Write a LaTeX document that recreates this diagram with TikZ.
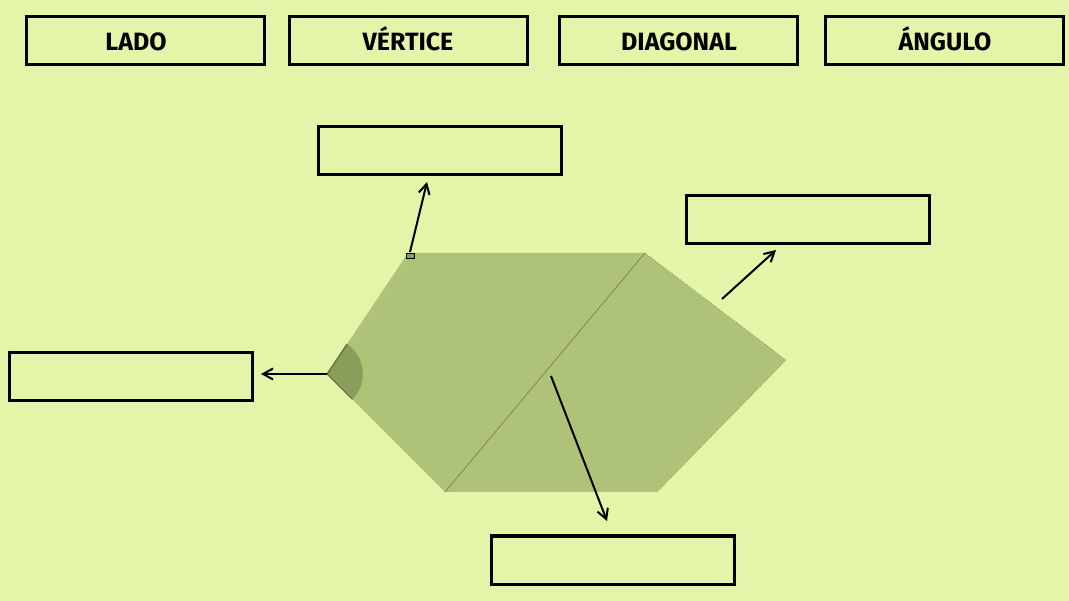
\documentclass[tikz,border=0pt]{standalone}
\usepackage{fontspec}
\setmainfont{Fira Sans}
\usetikzlibrary{arrows.meta,calc}
\definecolor{bg}{RGB}{228,245,170}
\definecolor{hexfill}{RGB}{174,195,120}
\definecolor{angfill}{RGB}{138,158,92}
\begin{document}
\begin{tikzpicture}[x=1pt,y=-1pt,
  lbl/.style={draw=black,line width=3pt,fill=bg,minimum width=238pt,minimum height=48pt,inner sep=0pt},
  lbltext/.style={inner sep=0pt,anchor=base,font=\fontsize{25}{28}\selectfont\bfseries},
  blank/.style={draw=black,line width=3pt,fill=bg,minimum width=243pt,minimum height=48pt,inner sep=0pt},
  arr/.style={draw=black,line width=2pt,-{Straight Barb[length=10pt,width=11pt]}}]
\fill[bg] (0,0) rectangle (1069,601);
\useasboundingbox (0,0) rectangle (1069,601);
% top labels
\node[lbl] (lado) at (145,41) {};
\node[lbltext] (ladoT) at (136,51) {LADO};
\node[lbl] (vert) at (408,41) {};
\node[lbltext] (vertT) at (408,51) {VÉRTICE};
\node[lbl] (diag) at (678,41) {};
\node[lbltext] (diagT) at (679,51) {DIAGONAL};
\node[lbl] (ang) at (944,41) {};
\node[lbltext] (angT) at (945,51) {ÁNGULO};
% blank boxes
\node[blank] (bTop) at (440,151) {};
\node[blank] (bRight) at (808,220) {};
\node[blank] (bLeft) at (131,377) {};
\node[blank] (bBot) at (613,560) {};
% hexagon
\coordinate (L) at (327,374);
\coordinate (TL) at (408,253);
\coordinate (TR) at (645,253);
\coordinate (R) at (786,360);
\coordinate (BR) at (657,492);
\coordinate (BL) at (445,492);
\fill[hexfill] (L) -- (TL) -- (TR) -- (R) -- (BR) -- (BL) -- cycle;
\draw[hexfill!70!black,line width=0.8pt] (TR) -- (BL);
\draw[hexfill!60!black,line width=0.6pt,dotted] (TR) -- (R) -- (BR);
% angle
\fill[angfill] (L) -- ($(L)!36pt!(TL)$) arc[start angle=56,end angle=-45,radius=36pt] -- cycle;
\draw[angfill!60!black,line width=1pt] ($(L)!36pt!(TL)$) -- (L) -- ($(L)!36pt!(BL)$);
% vertex marker
\draw[black,fill=angfill,line width=0.8pt] (406,253) rectangle (414,258);
% arrows
\coordinate (vA) at (410,252);
\coordinate (vB) at (427,182);
\draw[arr] (vA) -- (vB);
\coordinate (aA) at (327,374);
\coordinate (aB) at (261,374);
\draw[arr] (aA) -- (aB);
\coordinate (sA) at (722,299);
\coordinate (sB) at (776,250);
\draw[arr] (sA) -- (sB);
\coordinate (dA) at (551,376);
\coordinate (dB) at (607,521);
\draw[arr] (dA) -- (dB);
\end{tikzpicture}
\end{document}
